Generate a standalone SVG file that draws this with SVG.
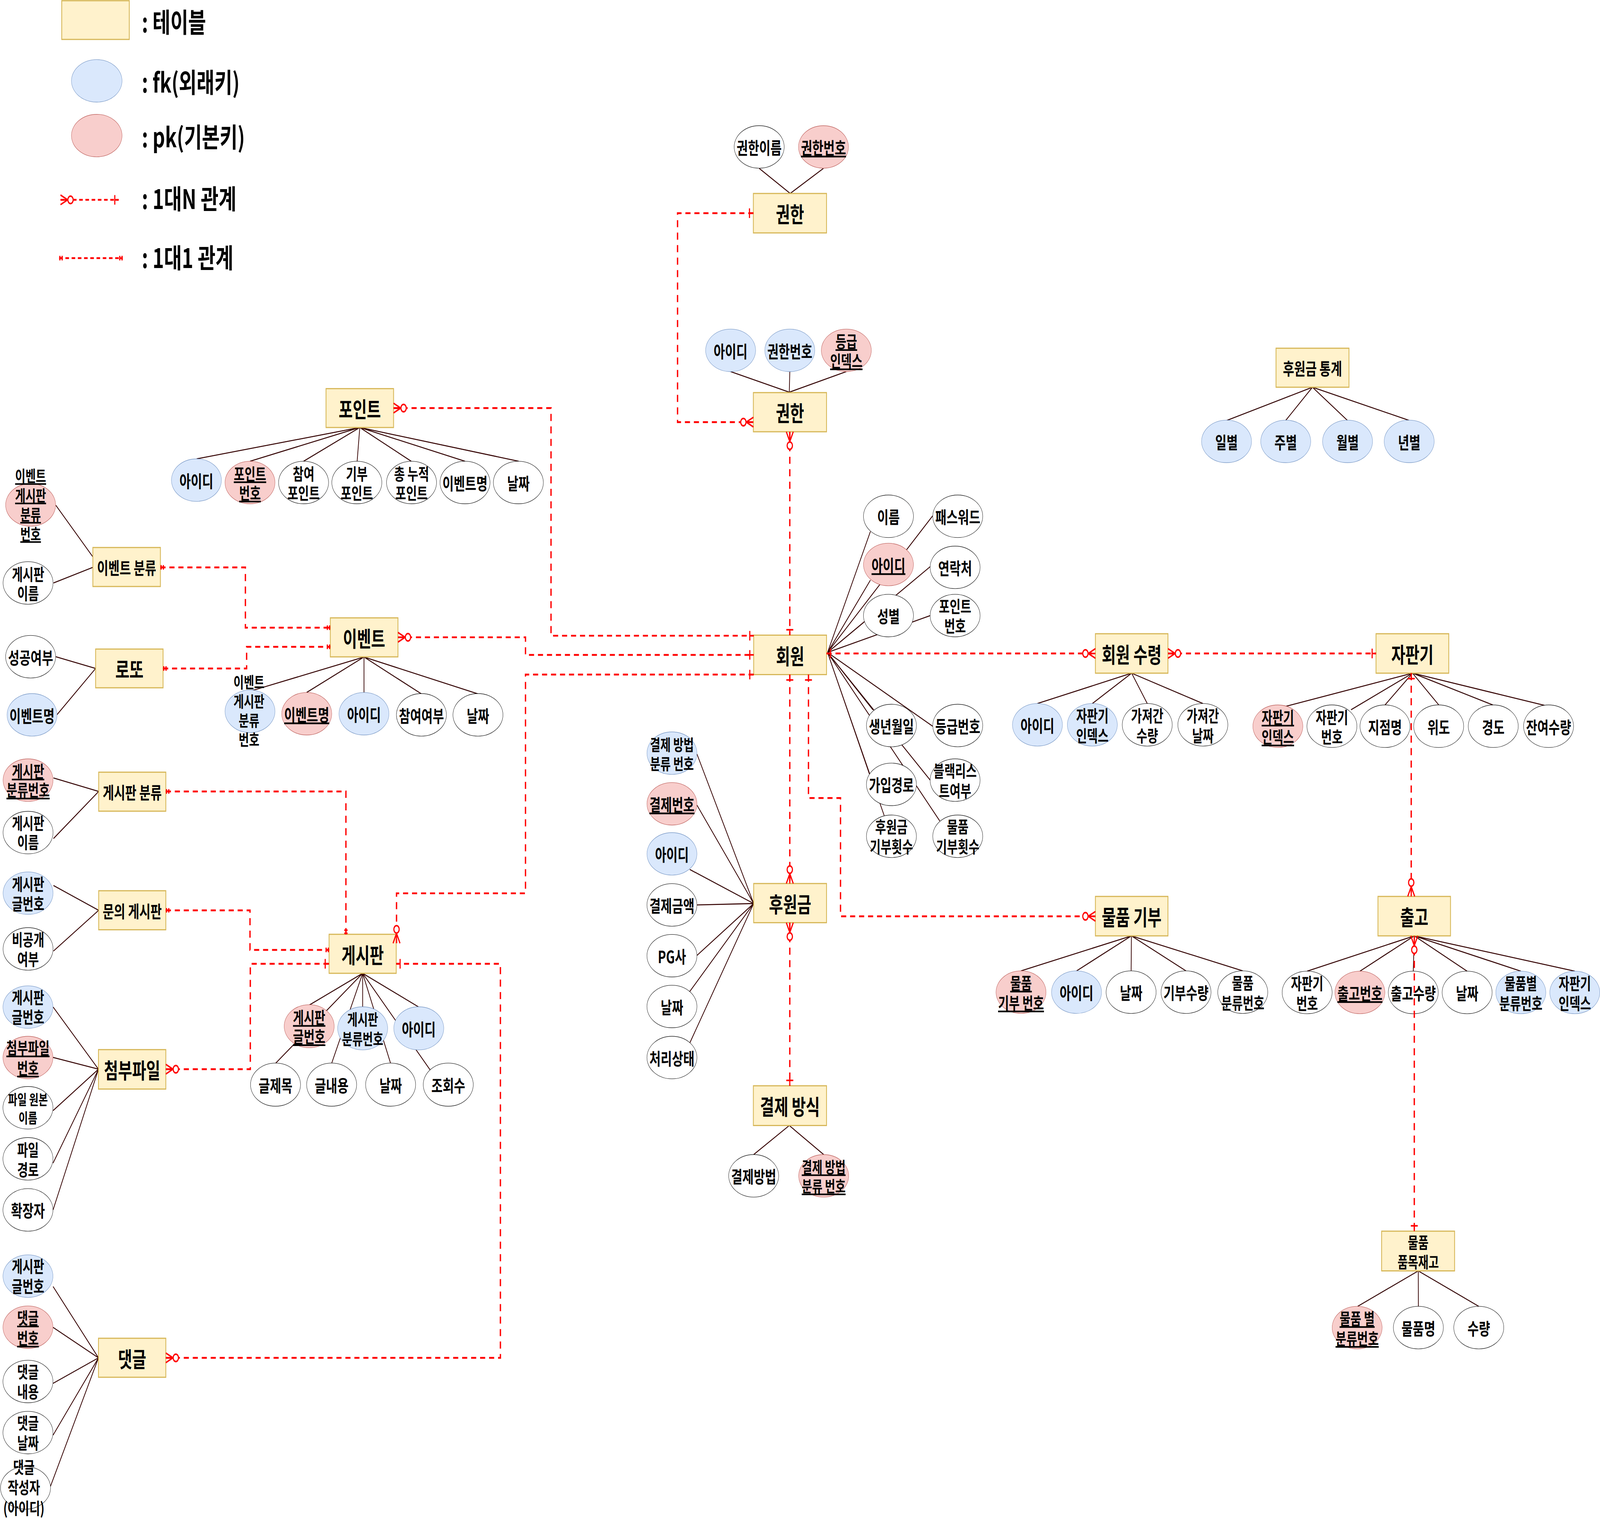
<svg xmlns="http://www.w3.org/2000/svg" width="5692" height="3885" viewBox="0 0 5692 3885" preserveAspectRatio="none" style="width:100vw;height:100vh">
<defs>
<style>
.tb{fill:#fff2cc;stroke:#d6b656;stroke-width:0.8}
.w{fill:#ffffff;stroke:#000000;stroke-width:0.3}
.fk{fill:#dae8fc;stroke:#6c8ebf;stroke-width:0.3}
.pk{fill:#f8cecc;stroke:#b85450;stroke-width:0.3}
text,tspan{font-family:"Noto Sans CJK KR","Noto Sans",sans-serif;font-weight:bold;dominant-baseline:central}
text{text-anchor:middle;fill:#000000}
.t15{font-size:15px}
.t12{font-size:12px}
.a12{font-size:12px}
.a115{font-size:11.5px}
.a11{font-size:11px}
.a10{font-size:10px}
.lg{font-size:19px;text-anchor:start}
.u{text-decoration:underline}
.al{stroke:#330000;stroke-width:0.7;fill:none}
.rel{stroke:#ff0000;stroke-width:1.3;stroke-dasharray:5 3.8;fill:none}
.rels{stroke:#ff0000;stroke-width:1.3;stroke-dasharray:3.5 2.6;fill:none}
</style>
<marker id="zm" markerUnits="userSpaceOnUse" orient="auto-start-reverse" viewBox="-15 -15 30 30" refX="0" refY="0" markerWidth="30" markerHeight="30" overflow="visible">
<path d="M0,-3.4 L-7,0 L0,3.4 M-7,0 H0" fill="none" stroke="#ff0000" stroke-width="1.1"/>
<circle cx="-9.8" cy="0" r="2.6" fill="#ffffff" stroke="#ff0000" stroke-width="1.1"/>
</marker>
<marker id="one" markerUnits="userSpaceOnUse" orient="auto-start-reverse" viewBox="-15 -15 30 30" refX="0" refY="0" markerWidth="30" markerHeight="30" overflow="visible">
<path d="M-3.8,-3.4 V3.4 M-3.8,0 H0" fill="none" stroke="#ff0000" stroke-width="1.1"/>
</marker>
<marker id="oo" markerUnits="userSpaceOnUse" orient="auto-start-reverse" viewBox="-15 -15 30 30" refX="0" refY="0" markerWidth="30" markerHeight="30" overflow="visible">
<path d="M-0.7,-1.6 V1.6 M-2.9,-1.6 V1.6 M-3.5,0 H0" fill="none" stroke="#ff0000" stroke-width="1.2"/>
</marker>
</defs>
<rect x="0" y="0" width="5692" height="3885" fill="#ffffff"/>
<g transform="scale(3.6301)">

<g id="attribute-lines" class="al">
<path d="M774.4,136.4 L744,118.7 M774.4,136.4 L807,118.7"/>
<path d="M773.5,276.5 L716,262 M773.5,276.5 L774,262 M773.5,276.5 L829.4,262"/>
<path d="M352.6,301.4 L192.8,323.5 M352.6,301.4 L245,325.2 M352.6,301.4 L297.5,325.2 M352.6,301.4 L350,325.2 M352.6,301.4 L403,325.2 M352.6,301.4 L455.7,325.2 M352.6,301.4 L508.3,325.2"/>
<path d="M54.7,356.2 L91,392.6 M52.4,411 L91,400"/>
<path d="M54.7,463 L93.7,471.3 M55.7,504 L93.7,471.3"/>
<path d="M356.7,463.2 L247.5,486.8 M356.7,463.2 L300.5,488.2 M356.7,463.2 L356.7,488.2 M356.7,463.2 L413,489.2 M356.7,463.2 L468.3,489.2"/>
<path d="M52.4,548.5 L96.7,558 M52.4,591.2 L96.7,558"/>
<path d="M52.4,624.3 L96.7,641.8 M52.4,670.5 L96.7,641.8"/>
<path d="M355.4,686.2 L303.1,708.6 M355.4,686.2 L270,749.7 M355.4,686.2 L325,749.7 M355.4,686.2 L355.4,710 M355.4,686.2 L382.8,749.7 M355.4,686.2 L410.4,710 M355.4,686.2 L421.5,754.3"/>
<path d="M52.1,710 L96.5,753.8 M52,745.5 L96.5,753.8 M52,783 L96.5,753.8 M52,820 L96.5,753.8 M52,853 L96.5,753.8"/>
<path d="M52,907 L96.5,957.3 M52,935.8 L96.5,957.3 M52,975.3 L96.5,957.3 M52,1011.8 L96.5,957.3 M49.4,1048 L96.5,957.3"/>
<path d="M811,460 L853,374.7 M811,460 L914,363.7 M811,460 L853,409 M811,460 L911.6,399.5 M811,460 L846.4,438.8 M811,460 L911.6,434 M811,460 L855.5,500.5 M811,460 L914,512 M811,460 L852,545.6 M811,460 L911.6,550 M811,460 L866.5,575 M811,460 L921,578.8"/>
<path d="M738.6,637 L683,531.6 M738.6,637 L683,567.6 M738.6,637 L676,613 M738.6,637 L683,638 M738.6,637 L683,673.6 M738.6,637 L676,699 M738.6,637 L676,735.3"/>
<path d="M773.5,793.5 L738.6,814 M773.5,793.5 L807.2,814"/>
<path d="M1109,474.6 L1016.7,496 M1109,474.6 L1070.5,496 M1109,474.6 L1124.3,496 M1109,474.6 L1178.8,496"/>
<path d="M1384.3,474.6 L1260,498 M1384.3,474.6 L1324,500.4 M1384.3,474.6 L1357.3,497 M1384.3,474.6 L1410,497 M1384.3,474.6 L1463,497 M1384.3,474.6 L1517.6,498"/>
<path d="M1108.8,659.8 L1000.6,684.5 M1108.8,659.8 L1055,684.5 M1108.8,659.8 L1108.5,684.5 M1108.8,659.8 L1162.3,684.5 M1108.8,659.8 L1217.9,684.5"/>
<path d="M1386,659.8 L1281,684.7 M1386,659.8 L1332.7,684.7 M1386,659.8 L1385,684.7 M1386,659.8 L1437.8,684.7 M1386,659.8 L1490.4,684.7 M1386,659.8 L1543.3,684.7"/>
<path d="M1389.9,896 L1330.5,921 M1389.9,896 L1390,921 M1389.9,896 L1449.2,921"/>
<path d="M1286.2,273 L1202.3,296.4 M1286.2,273 L1260,296.4 M1286.2,273 L1320.5,296.4 M1286.2,273 L1381,296.4"/>
</g>

<g id="t-auth1"><rect class="tb" x="738.3" y="136.4" width="71.7" height="27.8"/><text class="t15" x="774.2" y="150.3">권한</text></g>
<g id="a-auth1-name"><ellipse class="w" cx="744" cy="103.6" rx="24.5" ry="15"/><text class="a12" x="744" y="103.6">권한이름</text></g>
<g id="a-auth1-no"><ellipse class="pk" cx="807" cy="103.6" rx="24.5" ry="15"/><text class="a12 u" x="807" y="103.6">권한번호</text></g>

<g id="t-auth2"><rect class="tb" x="738.3" y="276.8" width="71.7" height="27.6"/><text class="t15" x="774.2" y="290.6">권한</text></g>
<g id="a-auth2-id"><ellipse class="fk" cx="716" cy="247" rx="24.5" ry="15"/><text class="a12" x="716" y="247">아이디</text></g>
<g id="a-auth2-no"><ellipse class="fk" cx="774" cy="247" rx="24.5" ry="15"/><text class="a12" x="774" y="247">권한번호</text></g>
<g id="a-auth2-grade"><ellipse class="pk" cx="829.4" cy="247" rx="24.5" ry="15"/><text class="a115 u" x="829.4" y="247"><tspan x="829.4" y="240.2">등급</tspan><tspan x="829.4" y="253.8">인덱스</tspan></text></g>

<g id="t-point"><rect class="tb" x="319.5" y="274" width="66.2" height="27.4"/><text class="t15" x="352.6" y="287.7">포인트</text></g>
<g id="a-point-id"><ellipse class="fk" cx="192.5" cy="338.5" rx="24.5" ry="15"/><text class="a12" x="192.5" y="338.5">아이디</text></g>
<g id="a-point-no"><ellipse class="pk" cx="245" cy="340.2" rx="24.5" ry="15"/><text class="a115 u" x="245" y="340.2"><tspan x="245" y="333.4">포인트</tspan><tspan x="245" y="347">번호</tspan></text></g>
<g id="a-point-join"><ellipse class="w" cx="297.5" cy="340.2" rx="24.5" ry="15"/><text class="a115" x="297.5" y="340.2"><tspan x="297.5" y="333.4">참여</tspan><tspan x="297.5" y="347">포인트</tspan></text></g>
<g id="a-point-donate"><ellipse class="w" cx="349.7" cy="340.2" rx="24.5" ry="15"/><text class="a115" x="349.7" y="340.2"><tspan x="349.7" y="333.4">기부</tspan><tspan x="349.7" y="347">포인트</tspan></text></g>
<g id="a-point-total"><ellipse class="w" cx="403.3" cy="340.2" rx="24.5" ry="15"/><text class="a115" x="403.3" y="340.2"><tspan x="403.3" y="333.4">총 누적</tspan><tspan x="403.3" y="347">포인트</tspan></text></g>
<g id="a-point-event"><ellipse class="w" cx="455.7" cy="340.2" rx="24.5" ry="15"/><text class="a12" x="455.7" y="340.2">이벤트명</text></g>
<g id="a-point-date"><ellipse class="w" cx="508" cy="340.2" rx="24.5" ry="15"/><text class="a12" x="508" y="340.2">날짜</text></g>

<g id="t-eventcat"><rect class="tb" x="91" y="386" width="66.2" height="27.5"/><text class="t12" x="124.1" y="399.8">이벤트 분류</text></g>
<g id="a-eventcat-no"><ellipse class="pk" cx="30" cy="356" rx="24.5" ry="15"/><text class="a11 u" x="30" y="356"><tspan x="30" y="335">이벤트</tspan><tspan x="30" y="348.7">게시판</tspan><tspan x="30" y="362.3">분류</tspan><tspan x="30" y="375.9">번호</tspan></text></g>
<g id="a-eventcat-name"><ellipse class="w" cx="27.5" cy="411" rx="24.5" ry="15"/><text class="a115" x="27.5" y="411"><tspan x="27.5" y="404.2">게시판</tspan><tspan x="27.5" y="417.8">이름</tspan></text></g>

<g id="t-lotto"><rect class="tb" x="93.7" y="457.6" width="66.1" height="27.3"/><text class="t15" x="126.8" y="471.3">로또</text></g>
<g id="a-lotto-ok"><ellipse class="w" cx="30" cy="463" rx="24.5" ry="15"/><text class="a12" x="30" y="463">성공여부</text></g>
<g id="a-lotto-event"><ellipse class="fk" cx="31.4" cy="504" rx="24.5" ry="15"/><text class="a12" x="31.4" y="504">이벤트명</text></g>

<g id="t-event"><rect class="tb" x="323.7" y="435.6" width="66.3" height="27.5"/><text class="t15" x="356.8" y="449.4">이벤트</text></g>
<g id="a-event-cat"><ellipse class="fk" cx="245" cy="501.5" rx="24.5" ry="15"/><text class="a11" x="244" y="501.5"><tspan x="244" y="480.4">이벤트</tspan><tspan x="244" y="494">게시판</tspan><tspan x="244" y="507.5">분류</tspan><tspan x="244" y="521">번호</tspan></text></g>
<g id="a-event-name"><ellipse class="pk" cx="300.6" cy="503.2" rx="24.5" ry="15"/><text class="a12 u" x="300.6" y="503.2">이벤트명</text></g>
<g id="a-event-id"><ellipse class="fk" cx="356.7" cy="503.2" rx="24.5" ry="15"/><text class="a12" x="356.7" y="503.2">아이디</text></g>
<g id="a-event-join"><ellipse class="w" cx="413" cy="504" rx="24.5" ry="15"/><text class="a12" x="413" y="504">참여여부</text></g>
<g id="a-event-date"><ellipse class="w" cx="468.4" cy="504" rx="24.5" ry="15"/><text class="a12" x="468.4" y="504">날짜</text></g>

<g id="t-boardcat"><rect class="tb" x="96.7" y="544.4" width="65.8" height="27.5"/><text class="t12" x="129.6" y="558.2">게시판 분류</text></g>
<g id="a-boardcat-no"><ellipse class="pk" cx="27.5" cy="550" rx="24.5" ry="15"/><text class="a115 u" x="27.5" y="550"><tspan x="27.5" y="543">게시판</tspan><tspan x="27.5" y="556.4">분류번호</tspan></text></g>
<g id="a-boardcat-name"><ellipse class="w" cx="27.5" cy="587" rx="24.5" ry="15"/><text class="a115" x="27.5" y="587"><tspan x="27.5" y="579.8">게시판</tspan><tspan x="27.5" y="593.4">이름</tspan></text></g>

<g id="t-qna"><rect class="tb" x="96.7" y="628" width="65.8" height="27.5"/><text class="t12" x="129.6" y="641.8">문의 게시판</text></g>
<g id="a-qna-no"><ellipse class="fk" cx="27.5" cy="629.7" rx="24.5" ry="15"/><text class="a115" x="27.5" y="629.7"><tspan x="27.5" y="622.8">게시판</tspan><tspan x="27.5" y="636.4">글번호</tspan></text></g>
<g id="a-qna-private"><ellipse class="w" cx="27.5" cy="669" rx="24.5" ry="15"/><text class="a115" x="27.5" y="669"><tspan x="27.5" y="661.8">비공개</tspan><tspan x="27.5" y="675.6">여부</tspan></text></g>

<g id="t-board"><rect class="tb" x="322.5" y="658.7" width="65.8" height="27.5"/><text class="t15" x="355.4" y="672.5">게시판</text></g>
<g id="a-board-no"><ellipse class="pk" cx="303" cy="723.5" rx="24.5" ry="15.2"/><text class="a115 u" x="303" y="723.5"><tspan x="303" y="716.7">게시판</tspan><tspan x="303" y="730.3">글번호</tspan></text></g>
<g id="a-board-cat"><ellipse class="fk" cx="355.4" cy="725" rx="24.5" ry="15.2"/><text class="a11" x="355.4" y="725"><tspan x="355.4" y="718.2">게시판</tspan><tspan x="355.4" y="731.8">분류번호</tspan></text></g>
<g id="a-board-id"><ellipse class="fk" cx="410.4" cy="725" rx="24.5" ry="15.2"/><text class="a12" x="410.4" y="725">아이디</text></g>
<g id="a-board-title"><ellipse class="w" cx="270" cy="764.7" rx="24.5" ry="15.2"/><text class="a12" x="270" y="764.7">글제목</text></g>
<g id="a-board-content"><ellipse class="w" cx="325" cy="764.7" rx="24.5" ry="15.2"/><text class="a12" x="325" y="764.7">글내용</text></g>
<g id="a-board-date"><ellipse class="w" cx="382.8" cy="764.7" rx="24.5" ry="15.2"/><text class="a12" x="382.8" y="764.7">날짜</text></g>
<g id="a-board-views"><ellipse class="w" cx="439.3" cy="764.7" rx="24.5" ry="15.2"/><text class="a12" x="439.3" y="764.7">조회수</text></g>

<g id="t-file"><rect class="tb" x="96.5" y="740" width="66" height="27.8"/><text class="t15" x="129.5" y="753.9">첨부파일</text></g>
<g id="a-file-board"><ellipse class="fk" cx="27.4" cy="710" rx="24.5" ry="15"/><text class="a115" x="27.4" y="710"><tspan x="27.4" y="702.5">게시판</tspan><tspan x="27.4" y="716.5">글번호</tspan></text></g>
<g id="a-file-no"><ellipse class="pk" cx="27.4" cy="745.6" rx="24.5" ry="15"/><text class="a115 u" x="27.4" y="745.6"><tspan x="27.4" y="738.2">첨부파일</tspan><tspan x="27.4" y="752.4">번호</tspan></text></g>
<g id="a-file-orig"><ellipse class="w" cx="27.4" cy="781" rx="24.5" ry="15"/><text class="a10" x="27.4" y="781"><tspan x="27.4" y="774.7">파일 원본</tspan><tspan x="27.4" y="787.6">이름</tspan></text></g>
<g id="a-file-path"><ellipse class="w" cx="27.4" cy="817" rx="24.5" ry="15"/><text class="a115" x="27.4" y="817"><tspan x="27.4" y="810">파일</tspan><tspan x="27.4" y="824">경로</tspan></text></g>
<g id="a-file-ext"><ellipse class="w" cx="27.4" cy="853" rx="24.5" ry="15"/><text class="a12" x="27.4" y="853">확장자</text></g>

<g id="t-comment"><rect class="tb" x="96.5" y="943.5" width="66" height="27.5"/><text class="t15" x="129.5" y="957.3">댓글</text></g>
<g id="a-comment-board"><ellipse class="fk" cx="27.4" cy="899.7" rx="24.5" ry="15"/><text class="a115" x="27.4" y="899.7"><tspan x="27.4" y="892.2">게시판</tspan><tspan x="27.4" y="906.2">글번호</tspan></text></g>
<g id="a-comment-no"><ellipse class="pk" cx="27.4" cy="935.7" rx="24.5" ry="15"/><text class="a115 u" x="27.4" y="935.7"><tspan x="27.4" y="928.6">댓글</tspan><tspan x="27.4" y="942.8">번호</tspan></text></g>
<g id="a-comment-content"><ellipse class="w" cx="27.4" cy="974" rx="24.5" ry="15"/><text class="a115" x="27.4" y="974"><tspan x="27.4" y="966.6">댓글</tspan><tspan x="27.4" y="980.7">내용</tspan></text></g>
<g id="a-comment-date"><ellipse class="w" cx="27.4" cy="1010" rx="24.5" ry="15"/><text class="a115" x="27.4" y="1010"><tspan x="27.4" y="1002.6">댓글</tspan><tspan x="27.4" y="1016.7">날짜</tspan></text></g>
<g id="a-comment-writer"><ellipse class="w" cx="25" cy="1049" rx="24.5" ry="15"/><text class="a115" x="23.4" y="1049"><tspan x="23.4" y="1033.8">댓글</tspan><tspan x="23.4" y="1048.2">작성자</tspan><tspan x="23.4" y="1062.8">(아이디)</tspan></text></g>

<g id="t-member"><rect class="tb" x="738.6" y="447.8" width="71.4" height="27.8"/><text class="t15" x="774.3" y="461.7">회원</text></g>
<g id="a-member-name"><ellipse class="w" cx="870.7" cy="364" rx="24.5" ry="15"/><text class="a12" x="870.7" y="364">이름</text></g>
<g id="a-member-pw"><ellipse class="w" cx="938.6" cy="364" rx="24.5" ry="15"/><text class="a12" x="938.6" y="364">패스워드</text></g>
<g id="a-member-id"><ellipse class="pk" cx="870.7" cy="398" rx="24.5" ry="15"/><text class="a12 u" x="870.7" y="398">아이디</text></g>
<g id="a-member-phone"><ellipse class="w" cx="936" cy="400" rx="24.5" ry="15"/><text class="a12" x="936" y="400">연락처</text></g>
<g id="a-member-gender"><ellipse class="w" cx="870.7" cy="434" rx="24.5" ry="15"/><text class="a12" x="870.7" y="434">성별</text></g>
<g id="a-member-point"><ellipse class="w" cx="936" cy="434" rx="24.5" ry="15"/><text class="a115" x="936" y="434"><tspan x="936" y="426.8">포인트</tspan><tspan x="936" y="440.6">번호</tspan></text></g>
<g id="a-member-birth"><ellipse class="w" cx="873.6" cy="511.5" rx="24.5" ry="15"/><text class="a12" x="873.6" y="511.5">생년월일</text></g>
<g id="a-member-grade"><ellipse class="w" cx="938.6" cy="511.5" rx="24.5" ry="15"/><text class="a12" x="938.6" y="511.5">등급번호</text></g>
<g id="a-member-route"><ellipse class="w" cx="873.6" cy="553" rx="24.5" ry="15"/><text class="a12" x="873.6" y="553">가입경로</text></g>
<g id="a-member-black"><ellipse class="w" cx="936" cy="550" rx="24.5" ry="15"/><text class="a115" x="936" y="550"><tspan x="936" y="542.8">블랙리스</tspan><tspan x="936" y="556.8">트여부</tspan></text></g>
<g id="a-member-sponsorcnt"><ellipse class="w" cx="873.6" cy="589.6" rx="24.5" ry="15"/><text class="a115" x="873.6" y="589.6"><tspan x="873.6" y="582.3">후원금</tspan><tspan x="873.6" y="596.2">기부횟수</tspan></text></g>
<g id="a-member-goodscnt"><ellipse class="w" cx="938.6" cy="589.6" rx="24.5" ry="15"/><text class="a115" x="938.6" y="589.6"><tspan x="938.6" y="582.3">물품</tspan><tspan x="938.6" y="596.2">기부횟수</tspan></text></g>

<g id="t-sponsor"><rect class="tb" x="738.6" y="622.9" width="71.4" height="27.6"/><text class="t15" x="774.3" y="636.7">후원금</text></g>
<g id="a-sponsor-method"><ellipse class="fk" cx="658.5" cy="531" rx="24.5" ry="15"/><text class="a11" x="658.5" y="531"><tspan x="658.5" y="524.5">결제 방법</tspan><tspan x="658.5" y="538">분류 번호</tspan></text></g>
<g id="a-sponsor-no"><ellipse class="pk" cx="658.5" cy="566.7" rx="24.5" ry="15"/><text class="a12 u" x="658.5" y="566.7">결제번호</text></g>
<g id="a-sponsor-id"><ellipse class="fk" cx="658.5" cy="602" rx="24.5" ry="15"/><text class="a12" x="658.5" y="602">아이디</text></g>
<g id="a-sponsor-amount"><ellipse class="w" cx="658.5" cy="638" rx="24.5" ry="15"/><text class="a12" x="658.5" y="638">결제금액</text></g>
<g id="a-sponsor-pg"><ellipse class="w" cx="658.5" cy="673.8" rx="24.5" ry="15"/><text class="a12" x="658.5" y="673.8">PG사</text></g>
<g id="a-sponsor-date"><ellipse class="w" cx="658.5" cy="709.6" rx="24.5" ry="15"/><text class="a12" x="658.5" y="709.6">날짜</text></g>
<g id="a-sponsor-status"><ellipse class="w" cx="658.5" cy="745.6" rx="24.5" ry="15"/><text class="a12" x="658.5" y="745.6">처리상태</text></g>

<g id="t-paymethod"><rect class="tb" x="738.3" y="765.5" width="71.7" height="28"/><text class="t15" x="774.2" y="779.5">결제 방식</text></g>
<g id="a-paymethod-name"><ellipse class="w" cx="738.6" cy="829" rx="24.5" ry="15"/><text class="a12" x="738.6" y="829">결제방법</text></g>
<g id="a-paymethod-no"><ellipse class="pk" cx="807.2" cy="829" rx="24.5" ry="15"/><text class="a11 u" x="807.2" y="829"><tspan x="807.2" y="822.3">결제 방법</tspan><tspan x="807.2" y="835.8">분류 번호</tspan></text></g>

<g id="t-receive"><rect class="tb" x="1073.5" y="446.8" width="71.1" height="27.8"/><text class="t15" x="1109" y="460.7">회원 수령</text></g>
<g id="a-receive-id"><ellipse class="fk" cx="1016.7" cy="511" rx="24.5" ry="15"/><text class="a12" x="1016.7" y="511">아이디</text></g>
<g id="a-receive-vm"><ellipse class="fk" cx="1070.5" cy="511" rx="24.5" ry="15"/><text class="a115" x="1070.5" y="511"><tspan x="1070.5" y="504">자판기</tspan><tspan x="1070.5" y="518">인덱스</tspan></text></g>
<g id="a-receive-qty"><ellipse class="w" cx="1124.3" cy="511" rx="24.5" ry="15"/><text class="a115" x="1124.3" y="511"><tspan x="1124.3" y="504">가져간</tspan><tspan x="1124.3" y="518">수량</tspan></text></g>
<g id="a-receive-date"><ellipse class="w" cx="1178.8" cy="511" rx="24.5" ry="15"/><text class="a115" x="1178.8" y="511"><tspan x="1178.8" y="504">가져간</tspan><tspan x="1178.8" y="518">날짜</tspan></text></g>

<g id="t-vending"><rect class="tb" x="1348.5" y="446.8" width="71.3" height="27.8"/><text class="t15" x="1384.2" y="460.7">자판기</text></g>
<g id="a-vending-idx"><ellipse class="pk" cx="1252.3" cy="512" rx="24.5" ry="15"/><text class="a115 u" x="1252.3" y="512"><tspan x="1252.3" y="505">자판기</tspan><tspan x="1252.3" y="519">인덱스</tspan></text></g>
<g id="a-vending-no"><ellipse class="w" cx="1305.3" cy="512" rx="24.5" ry="15"/><text class="a115" x="1305.3" y="512"><tspan x="1305.3" y="505">자판기</tspan><tspan x="1305.3" y="519">번호</tspan></text></g>
<g id="a-vending-branch"><ellipse class="w" cx="1357.3" cy="512" rx="24.5" ry="15"/><text class="a12" x="1357.3" y="512">지점명</text></g>
<g id="a-vending-lat"><ellipse class="w" cx="1409.9" cy="512" rx="24.5" ry="15"/><text class="a12" x="1409.9" y="512">위도</text></g>
<g id="a-vending-lng"><ellipse class="w" cx="1463.4" cy="512" rx="24.5" ry="15"/><text class="a12" x="1463.4" y="512">경도</text></g>
<g id="a-vending-stock"><ellipse class="w" cx="1517.6" cy="512" rx="24.5" ry="15"/><text class="a12" x="1517.6" y="512">잔여수량</text></g>

<g id="t-goodsdonate"><rect class="tb" x="1073.5" y="632" width="71.1" height="27.8"/><text class="t15" x="1109" y="645.9">물품 기부</text></g>
<g id="a-gd-no"><ellipse class="pk" cx="1000.6" cy="699.5" rx="24.5" ry="15"/><text class="a115 u" x="1000.6" y="699.5"><tspan x="1000.6" y="692.5">물품</tspan><tspan x="1000.6" y="706.5">기부 번호</tspan></text></g>
<g id="a-gd-id"><ellipse class="fk" cx="1055" cy="699.5" rx="24.5" ry="15"/><text class="a12" x="1055" y="699.5">아이디</text></g>
<g id="a-gd-date"><ellipse class="w" cx="1108.5" cy="699.5" rx="24.5" ry="15"/><text class="a12" x="1108.5" y="699.5">날짜</text></g>
<g id="a-gd-qty"><ellipse class="w" cx="1162.3" cy="699.5" rx="24.5" ry="15"/><text class="a12" x="1162.3" y="699.5">기부수량</text></g>
<g id="a-gd-cat"><ellipse class="w" cx="1217.9" cy="699.5" rx="24.5" ry="15"/><text class="a115" x="1217.9" y="699.5"><tspan x="1217.9" y="692.5">물품</tspan><tspan x="1217.9" y="706.5">분류번호</tspan></text></g>

<g id="t-release"><rect class="tb" x="1350.4" y="632" width="71.1" height="27.8"/><text class="t15" x="1386" y="645.9">출고</text></g>
<g id="a-rel-vmno"><ellipse class="w" cx="1281" cy="699.7" rx="24.5" ry="15"/><text class="a115" x="1281" y="699.7"><tspan x="1281" y="692.7">자판기</tspan><tspan x="1281" y="706.7">번호</tspan></text></g>
<g id="a-rel-no"><ellipse class="pk" cx="1332.7" cy="699.7" rx="24.5" ry="15"/><text class="a12 u" x="1332.7" y="699.7">출고번호</text></g>
<g id="a-rel-qty"><ellipse class="w" cx="1385" cy="699.7" rx="24.5" ry="15"/><text class="a12" x="1385" y="699.7">출고수량</text></g>
<g id="a-rel-date"><ellipse class="w" cx="1437.8" cy="699.7" rx="24.5" ry="15"/><text class="a12" x="1437.8" y="699.7">날짜</text></g>
<g id="a-rel-cat"><ellipse class="fk" cx="1490.4" cy="699.7" rx="24.5" ry="15"/><text class="a115" x="1490.4" y="699.7"><tspan x="1490.4" y="692.7">물품별</tspan><tspan x="1490.4" y="706.7">분류번호</tspan></text></g>
<g id="a-rel-vmidx"><ellipse class="fk" cx="1543.3" cy="699.7" rx="24.5" ry="15"/><text class="a115" x="1543.3" y="699.7"><tspan x="1543.3" y="692.7">자판기</tspan><tspan x="1543.3" y="706.7">인덱스</tspan></text></g>

<g id="t-stock"><rect class="tb" x="1354" y="868" width="71.5" height="28"/><text class="a11" x="1389.8" y="882"><tspan x="1389.8" y="875.3">물품</tspan><tspan x="1389.8" y="889.2">품목재고</tspan></text></g>
<g id="a-stock-cat"><ellipse class="pk" cx="1330" cy="936" rx="24.5" ry="15"/><text class="a115 u" x="1330" y="936"><tspan x="1330" y="929">물품 별</tspan><tspan x="1330" y="943">분류번호</tspan></text></g>
<g id="a-stock-name"><ellipse class="w" cx="1390" cy="936" rx="24.5" ry="15"/><text class="a12" x="1390" y="936">물품명</text></g>
<g id="a-stock-qty"><ellipse class="w" cx="1449.2" cy="936" rx="24.5" ry="15"/><text class="a12" x="1449.2" y="936">수량</text></g>

<g id="t-stats"><rect class="tb" x="1250.5" y="245.5" width="71.5" height="27.5"/><text class="t12" x="1286.2" y="259.2">후원금 통계</text></g>
<g id="a-stats-day"><ellipse class="fk" cx="1202" cy="311.2" rx="24.5" ry="15"/><text class="a12" x="1202" y="311.2">일별</text></g>
<g id="a-stats-week"><ellipse class="fk" cx="1260" cy="311.2" rx="24.5" ry="15"/><text class="a12" x="1260" y="311.2">주별</text></g>
<g id="a-stats-month"><ellipse class="fk" cx="1320.6" cy="311.2" rx="24.5" ry="15"/><text class="a12" x="1320.6" y="311.2">월별</text></g>
<g id="a-stats-year"><ellipse class="fk" cx="1381" cy="311.2" rx="24.5" ry="15"/><text class="a12" x="1381" y="311.2">년별</text></g>

<g id="relations" class="rel">
<path d="M738.3,150.3 H664 V297.6 H738.3" marker-start="url(#one)" marker-end="url(#zm)"/>
<path d="M774,304.4 V447.8" marker-start="url(#zm)" marker-end="url(#one)"/>
<path d="M385.7,287.7 H540 V448.2 H738.6" marker-start="url(#zm)" marker-end="url(#one)"/>
<path d="M390,449.3 H515 V461.7 H738.6" marker-start="url(#zm)" marker-end="url(#one)"/>
<path d="M738.6,475.6 H515 V629.8 H388.6 V665" marker-start="url(#one)" marker-end="url(#zm)"/>
<path d="M810,460.7 H1073.5" marker-start="url(#one)" marker-end="url(#zm)"/>
<path d="M1144.6,460.7 H1348.5" marker-start="url(#zm)" marker-end="url(#one)"/>
<path d="M1383,474.6 V632" marker-start="url(#one)" marker-end="url(#zm)"/>
<path d="M1386,659.8 V868" marker-start="url(#zm)" marker-end="url(#one)"/>
<path d="M774,475.6 V622.9" marker-start="url(#one)" marker-end="url(#zm)"/>
<path d="M792.3,475.6 V562.6 H823.7 V646 H1073.5" marker-start="url(#one)" marker-end="url(#zm)"/>
<path d="M774,650.5 V765.5" marker-start="url(#zm)" marker-end="url(#one)"/>
<path d="M157.2,400 H240.5 V442.5 H323.7" marker-start="url(#oo)" marker-end="url(#oo)"/>
<path d="M159.8,471.3 H241.7 V456 H323.7" marker-start="url(#oo)" marker-end="url(#oo)"/>
<path d="M162.5,558 H339 V658.7" marker-start="url(#oo)" marker-end="url(#oo)"/>
<path d="M162.5,641.8 H245 V669.7 H322.5" marker-start="url(#oo)" marker-end="url(#oo)"/>
<path d="M162.5,753.8 H245.3 V679.5 H322.5" marker-start="url(#zm)" marker-end="url(#one)"/>
<path d="M162.5,957.3 H490.4 V679.5 H388.3" marker-start="url(#zm)" marker-end="url(#one)"/>
</g>

<g id="legend">
<g id="legend-table"><rect class="tb" x="60.5" y="0.5" width="66.2" height="27.3"/><text class="lg" x="139" y="14.5">: 테이블</text></g>
<g id="legend-fk"><ellipse class="fk" cx="94.8" cy="57" rx="24.8" ry="15"/><text class="lg" x="139" y="57">: fk(외래키)</text></g>
<g id="legend-pk"><ellipse class="pk" cx="94.8" cy="95.6" rx="24.8" ry="15"/><text class="lg" x="139" y="95.6">: pk(기본키)</text></g>
<g id="legend-1n"><path class="rels" d="M59.3,140.9 H116.3" marker-start="url(#zm)" marker-end="url(#one)"/><text class="lg" x="139" y="139">: 1대N 관계</text></g>
<g id="legend-11"><path class="rels" d="M58,182 H120.3" marker-start="url(#oo)" marker-end="url(#oo)"/><text class="lg" x="139" y="180.6">: 1대1 관계</text></g>
</g>

</g>
</svg>
